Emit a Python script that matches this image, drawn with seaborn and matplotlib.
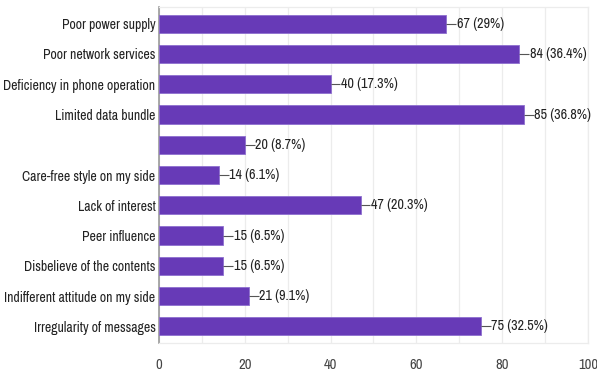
import matplotlib
matplotlib.use("Agg")
import matplotlib.pyplot as plt
import seaborn as sns
import pandas as pd

categories = [
    "Poor power supply",
    "Poor network services",
    "Deficiency in phone operation",
    "Limited data bundle",
    "",
    "Care-free style on my side",
    "Lack of interest",
    "Peer influence",
    "Disbelieve of the contents",
    "Indifferent attitude on my side",
    "Irregularity of messages",
]
counts = [67, 84, 40, 85, 20, 14, 47, 15, 15, 21, 75]
percents = ["29%", "36.4%", "17.3%", "36.8%", "8.7%", "6.1%", "20.3%", "6.5%", "6.5%", "9.1%", "32.5%"]
x_ticks = [0, 20, 40, 60, 80, 100]

sns.set_theme(style="white")
plt.rcParams["font.family"] = ["Archivo Narrow", "Roboto Condensed", "DejaVu Sans"]

df = pd.DataFrame({"reason": categories, "count": counts})

fig = plt.figure(figsize=(5.97, 3.72), dpi=100)
ax = fig.add_axes([0.2663, 0.078, 0.7186, 0.903])

sns.barplot(data=df, y="reason", x="count", order=categories, orient="h",
            color="#673ab7", saturation=1, width=0.6, edgecolor="#8e6fcf",
            linewidth=0.6, ax=ax, zorder=3)

ax.set_xlim(0, 100)
ax.set_ylim(len(categories) - 0.5 + 0.05, -0.5 - 0.05)
ax.set_xticks(x_ticks)
ax.set_xticks(range(0, 101, 10), minor=True)
ax.grid(axis="x", which="both", color="#ececec", linewidth=0.9, zorder=0)
ax.set_xlabel("")
ax.set_ylabel("")
ax.tick_params(axis="x", which="both", length=0, labelsize=10.5, labelcolor="#444444", pad=11)
ax.tick_params(axis="y", length=0, labelsize=9.9, labelcolor="#222222", pad=2.5)

for side in ("top", "right", "bottom"):
    ax.spines[side].set_color("#ececec")
    ax.spines[side].set_linewidth(0.9)
ax.spines["left"].set_color("#999999")
ax.spines["left"].set_linewidth(1.2)

for i, (c, p) in enumerate(zip(counts, percents)):
    ax.plot([c, c + 2.3], [i, i], color="#555555", linewidth=0.8, zorder=4,
            solid_capstyle="butt")
    ax.text(c + 2.4, i, f"{c} ({p})", va="center", ha="left",
            fontsize=10.2, color="#222222", zorder=5)

fig.savefig("out.png", dpi=100)
